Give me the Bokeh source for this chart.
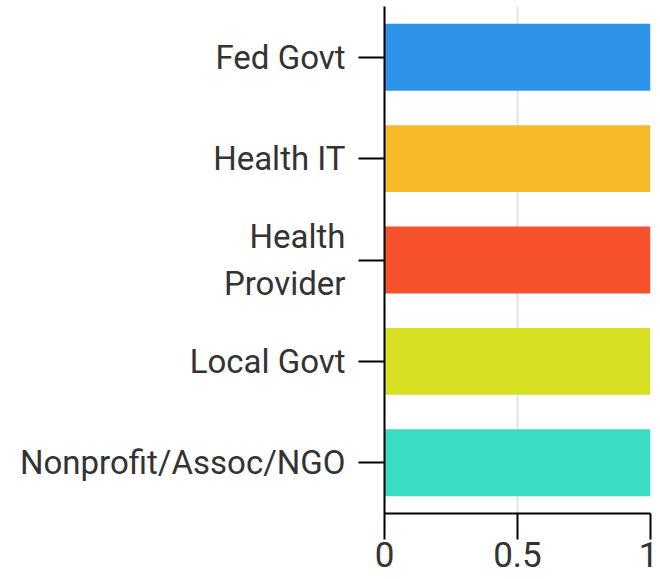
from bokeh.plotting import figure
from bokeh.models import ColumnDataSource, FactorRange, Range1d, FixedTicker
from bokeh.embed import file_html
from bokeh.resources import INLINE

categories = ["Fed Govt", "Health IT", "Health\nProvider", "Local Govt", "Nonprofit/Assoc/NGO"]
values = [1, 1, 1, 1, 1]
colors = ["#2E94E9", "#F6BA2B", "#F5512C", "#D6E021", "#3BDCC4"]
x_ticks = [0, 0.5, 1]
x_tick_labels = ["0", "0.5", "1"]

source = ColumnDataSource(dict(cat=categories, val=values, color=colors))

p = figure(
    y_range=FactorRange(factors=list(reversed(categories))),
    x_range=Range1d(0, 1),
    output_backend="svg", toolbar_location=None,
    min_border_left=384, min_border_right=8, min_border_top=6, min_border_bottom=64,
)
p.frame_width = 266
p.frame_height = 507

p.hbar(y="cat", left=0, right="val", height=0.66, color="color", line_color=None, source=source)

p.outline_line_color = None
p.ygrid.grid_line_color = None
p.xgrid.grid_line_color = "#e3e3e3"
p.xgrid.grid_line_width = 2
p.xaxis.ticker = FixedTicker(ticks=x_ticks)
p.xaxis.major_label_overrides = {t: l for t, l in zip(x_ticks, x_tick_labels)}

for ax in (p.xaxis, p.yaxis):
    ax.axis_line_color = "black"
    ax.axis_line_width = 2
    ax.major_tick_line_color = "black"
    ax.major_tick_line_width = 2
    ax.major_tick_out = 26
    ax.major_tick_in = 0
    ax.minor_tick_line_color = None
    ax.major_label_text_font = "Roboto"
    ax.major_label_text_color = "#333333"

p.yaxis.major_label_text_font_size = "33px"
p.yaxis.major_label_standoff = 13
p.xaxis.major_label_text_font_size = "35px"
p.xaxis.major_label_standoff = 2

open("out.html", "w").write(file_html(p, INLINE))
